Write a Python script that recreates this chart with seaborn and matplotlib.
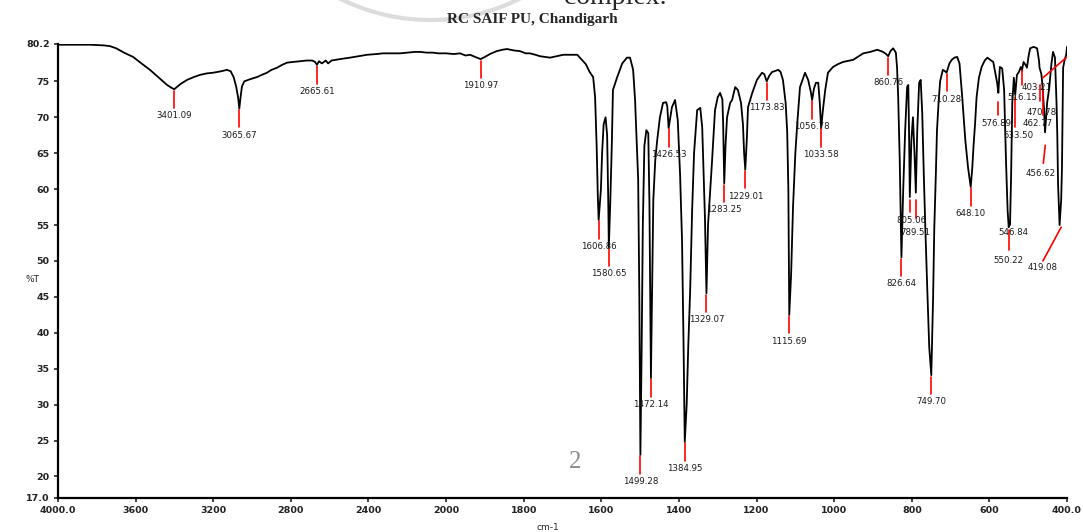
import numpy as np
import pandas as pd
import matplotlib
matplotlib.use("Agg")
import matplotlib.pyplot as plt
from matplotlib.patches import Arc
import seaborn as sns

# --- spectrum (wavenumber cm-1, %T) ---
wavenumber = [
    4000, 3900, 3835, 3760, 3732, 3700, 3660, 3613, 3570, 3526, 3480, 3438, 3415, 3401.09,
    3370, 3335, 3300, 3268, 3235, 3201, 3160, 3129, 3110, 3095, 3082, 3072, 3065.67, 3060,
    3052, 3040, 3010, 2974, 2950, 2923, 2900, 2871, 2845, 2820, 2790, 2752, 2720, 2690,
    2675, 2665.61, 2655, 2640, 2620, 2608, 2590, 2546, 2520, 2495, 2450, 2407, 2360, 2325,
    2280, 2237, 2200, 2160, 2134, 2100, 2070, 2040, 2000, 1980, 1964, 1950, 1938, 1925,
    1910.97, 1900, 1887, 1870, 1855, 1843, 1825, 1809, 1795, 1784, 1770, 1758, 1745, 1732,
    1715, 1698, 1680, 1662, 1650, 1640, 1630, 1621, 1616, 1612, 1609, 1606.86, 1601, 1598,
    1594, 1589, 1585, 1582, 1580.65, 1577, 1573, 1570, 1559, 1546, 1534, 1526, 1518, 1513,
    1505, 1502, 1499.28, 1496, 1493, 1489, 1484, 1479, 1476, 1474, 1472.14, 1469, 1466, 1461,
    1456, 1449, 1441, 1433, 1430, 1426.53, 1422, 1418, 1410, 1403, 1397, 1392, 1388, 1384.95,
    1380, 1376, 1371, 1366, 1361, 1353, 1345, 1340, 1333, 1329.07, 1325, 1315, 1307, 1300,
    1294, 1288, 1286, 1283.25, 1280, 1276, 1268, 1263, 1255, 1248, 1240, 1235, 1232, 1229.01,
    1225, 1222, 1211, 1199, 1186, 1180, 1173.83, 1167, 1160, 1144, 1138, 1132, 1125, 1121,
    1118, 1115.69, 1111, 1106, 1100, 1095, 1088, 1075, 1067, 1060, 1056.78, 1052, 1047, 1041,
    1037, 1033.58, 1029, 1023, 1016, 1003, 990, 977, 951, 925, 907, 889, 874, 866, 860.76,
    855, 848, 841, 838, 835, 831, 826.64, 822, 817, 812, 809, 807, 805.06, 801, 797, 793,
    789.51, 786, 781, 777, 773, 769, 765, 760, 755, 749.70, 745, 742, 738, 735, 731, 727,
    720, 714, 710.28, 703, 697, 690, 683, 677, 670, 662, 655, 648.10, 644, 641, 637, 633,
    627, 620, 612, 605, 598, 590, 584, 580, 576.89, 573, 567, 562, 557, 553, 550.22, 548,
    546.84, 544, 541, 537, 533.50, 529, 524, 519, 516.15, 512, 507, 503.21, 499, 495, 486,
    477, 472, 470.78, 466, 462.77, 459, 456.62, 453, 451, 446, 440, 436, 431, 427, 425, 423,
    419.08, 415, 413, 410, 406, 402, 400,
]
transmittance = [
    80.1, 80.1, 80.1, 80.0, 79.9, 79.6, 79.0, 78.4, 77.5, 76.6, 75.5, 74.5, 74.1, 73.9,
    74.6, 75.2, 75.6, 75.9, 76.1, 76.2, 76.4, 76.6, 76.4, 75.6, 74.3, 72.8, 71.2, 72.6,
    74.3, 75.0, 75.3, 75.6, 75.9, 76.2, 76.6, 76.9, 77.3, 77.6, 77.7, 77.8, 77.9, 77.9,
    77.7, 77.3, 77.8, 77.5, 77.9, 77.5, 77.9, 78.1, 78.2, 78.3, 78.5, 78.7, 78.8, 78.9,
    78.9, 78.9, 79.0, 79.1, 79.1, 79.0, 79.0, 78.9, 78.9, 78.8, 78.9, 78.6, 78.7, 78.4,
    78.1, 78.4, 78.8, 79.2, 79.4, 79.5, 79.3, 79.2, 78.9, 78.9, 78.7, 78.5, 78.4, 78.3,
    78.5, 78.7, 78.7, 78.7, 78.0, 77.4, 76.3, 75.6, 72.8, 66.0, 59.0, 55.7, 60.0, 65.0,
    69.0, 70.0, 67.5, 58.0, 51.9, 58.0, 66.0, 73.8, 75.6, 77.5, 78.3, 78.3, 76.6, 72.4,
    61.3, 45.0, 23.0, 38.0, 55.0, 66.0, 68.2, 67.8, 58.0, 45.0, 33.7, 46.0, 58.5, 64.0,
    66.8, 70.0, 72.0, 72.1, 71.5, 68.5, 70.0, 71.4, 72.4, 69.6, 62.0, 52.9, 38.0, 24.8,
    30.0, 38.0, 46.0, 57.0, 65.0, 71.0, 71.3, 68.6, 56.1, 45.5, 55.0, 63.6, 71.0, 72.8,
    73.4, 72.5, 69.0, 60.8, 66.0, 70.0, 72.0, 72.4, 74.2, 73.8, 72.0, 69.0, 65.0, 62.7,
    67.0, 71.4, 73.4, 75.2, 76.2, 76.0, 75.0, 75.8, 76.3, 76.6, 76.3, 75.2, 72.0, 68.0,
    60.0, 42.5, 48.0, 57.5, 65.0, 69.2, 74.2, 76.2, 75.2, 73.5, 72.4, 74.0, 74.8, 74.8,
    72.0, 68.5, 71.0, 73.8, 76.2, 77.0, 77.4, 77.7, 78.0, 78.9, 79.1, 79.4, 79.1, 78.8, 78.5,
    79.2, 79.6, 79.0, 77.0, 72.8, 64.0, 50.5, 60.0, 68.2, 74.2, 74.5, 68.0, 58.9, 66.8, 70.0, 65.0,
    59.5, 68.0, 74.8, 75.2, 70.5, 62.0, 54.5, 46.0, 38.0, 34.1, 45.0, 54.5, 62.0, 68.2, 72.0, 75.0,
    76.6, 76.4, 76.2, 77.5, 78.0, 78.3, 78.4, 77.5, 72.8, 66.8, 63.0, 60.3, 63.0, 65.9, 69.0, 72.8,
    75.5, 77.0, 77.9, 78.3, 78.0, 77.7, 76.0, 74.8, 73.4, 77.0, 76.8, 73.8, 63.6, 57.0, 54.7, 55.5,
    55.0, 62.0, 72.0, 75.5, 73.1, 75.9, 76.3, 77.0, 76.5, 77.7, 77.3, 76.9, 78.5, 79.6, 79.8,
    79.6, 77.8, 76.9, 76.0, 74.1, 71.0, 67.9, 70.5, 72.1, 74.0, 77.5, 79.1, 78.3, 72.0, 67.5, 60.6,
    55.0, 58.5, 62.9, 76.9, 78.0, 78.7, 79.8,
]

# --- labelled peaks ---
peak_wn = [3401.09, 3065.67, 2665.61, 1910.97, 1606.86, 1580.65, 1499.28, 1472.14,
           1426.53, 1384.95, 1329.07, 1283.25, 1229.01, 1173.83, 1115.69, 1056.78,
           1033.58, 860.76, 826.64, 805.06, 789.51, 749.70, 710.28, 648.10, 576.89,
           550.22, 546.84, 533.50, 516.15, 403.21, 470.78, 462.77, 456.62, 419.08]
peak_T = [73.9, 71.2, 77.3, 78.1, 55.7, 51.9, 23.0, 33.7, 68.5, 24.8, 45.5, 60.8, 62.7,
          75.0, 42.5, 72.4, 68.5, 78.5, 50.5, 58.9, 59.5, 34.1, 76.2, 60.3, 73.4, 54.7,
          55.0, 73.1, 76.5, 78.5, 76.9, 74.1, 67.9, 55.0]
peak_text = ["3401.09", "3065.67", "2665.61", "1910.97", "1606.86", "1580.65", "1499.28",
             "1472.14", "1426.53", "1384.95", "1329.07", "1283.25", "1229.01", "1173.83",
             "1115.69", "1056.78", "1033.58", "860.76", "826.64", "805.06", "789.51",
             "749.70", "710.28", "648.10", "576.89", "550.22", "546.84", "533.50",
             "516.15", "403.21", "470.78", "462.77", "456.62", "419.08"]

# labels that the spectrometer software moved: label (wn, T) and leader segment
label_layout = {
    "805.06": ((802, 55.6), ((805.06, 58.5), (805.06, 56.8))),
    "789.51": ((791, 54.0), ((789.51, 58.5), (789.51, 56.0))),
    "576.89": ((583, 69.2), ((576.89, 72.1), (576.89, 70.3))),
    "550.22": ((552, 50.1), ((550.22, 54.3), (550.22, 51.5))),
    "546.84": ((539, 54.0), None),
    "533.50": ((526, 67.5), ((533.5, 72.8), (533.5, 68.6))),
    "516.15": ((516, 72.7), ((516.15, 76.6), (516.15, 74.5))),
    "403.21": ((477, 74.2), ((400, 78.4), (462, 75.5))),
    "470.78": ((466, 70.7), ((470.78, 74.5), (470.78, 72.3))),
    "462.77": ((476, 69.2), ((462.77, 73.8), (462.77, 70.3))),
    "456.62": ((467, 62.2), ((456, 66.1), (461, 63.6))),
    "419.08": ((464, 49.1), ((415, 54.7), (462, 50.0))),
}

xticks = [4000, 3600, 3200, 2800, 2400, 2000, 1800, 1600, 1400, 1200, 1000, 800, 600, 400]
xtick_text = ["4000.0", "3600", "3200", "2800", "2400", "2000", "1800", "1600", "1400",
              "1200", "1000", "800", "600", "400.0"]
yticks = [17.0, 20, 25, 30, 35, 40, 45, 50, 55, 60, 65, 70, 75, 80.2]
ytick_text = ["17.0", "20", "25", "30", "35", "40", "45", "50", "55", "60", "65", "70",
              "75", "80.2"]

df = pd.DataFrame({"wn": wavenumber, "T": transmittance})


# spectrometer axis: scale doubles below 2000 cm-1
def fwd(w):
    w = np.asarray(w, dtype=float)
    return np.where(w >= 2000, 1000 + (w - 2000) / 2, w - 1000)


def inv(u):
    u = np.asarray(u, dtype=float)
    return np.where(u >= 1000, 2000 + 2 * (u - 1000), u + 1000)


sns.set_style("ticks")
plt.rcParams["font.family"] = ["DejaVu Sans"]
SERIF = ["Liberation Serif", "DejaVu Serif"]

fig = plt.figure(figsize=(10.83, 5.32), dpi=100)
ax = fig.add_axes([58 / 1083, 1 - 498 / 532, 1009 / 1083, 454 / 532])

sns.lineplot(data=df, x="wn", y="T", ax=ax, color="black", linewidth=1.3,
             sort=False, estimator=None)

ax.set_xscale("function", functions=(fwd, inv))
ax.set_xlim(4000, 400)
ax.set_ylim(17.0, 80.2)

for wn, t, txt in zip(peak_wn, peak_T, peak_text):
    if txt in label_layout:
        (lx, ly), seg = label_layout[txt]
        if seg is not None:
            ax.plot([seg[0][0], seg[1][0]], [seg[0][1], seg[1][1]], color="red", lw=1.2)
    else:
        ax.plot([wn, wn], [t - 0.2, t - 2.6], color="red", lw=1.2)
        lx, ly = wn, t - 3.7
    ax.text(lx, ly, txt, fontsize=6.2, ha="center", va="center", color="#1a1a1a")

ax.set_xticks(xticks)
ax.set_xticklabels(xtick_text)
ax.set_yticks(yticks)
ax.set_yticklabels(ytick_text)
ax.minorticks_off()
ax.tick_params(axis="both", length=3, width=1.2, labelsize=6.8, direction="out", pad=3)
for lab in ax.get_xticklabels() + ax.get_yticklabels():
    lab.set_fontweight("bold")
    lab.set_color("#222222")
sns.despine(ax=ax)
for s in ("left", "bottom"):
    ax.spines[s].set_linewidth(1.6)
    ax.spines[s].set_color("black")
ax.set_xlabel("")
ax.set_ylabel("")

fig.text(32 / 1083, 1 - 280 / 532, "%T", fontsize=6.5, ha="center", va="center")
fig.text(548 / 1083, 1 - 527 / 532, "cm-1", fontsize=6.5, ha="center", va="center")
fig.text(532 / 1083, 1 - 20 / 532, "RC SAIF PU, Chandigarh", fontsize=11,
         fontweight="bold", ha="center", va="center", family=SERIF)
fig.text(575 / 1083, 1 - 462 / 532, "2", fontsize=18, color="#8c8c8c",
         ha="center", va="center", family=SERIF)
fig.text(615 / 1083, 1 + 2 / 532, "complex.", fontsize=20, ha="center", va="center",
         family=SERIF)
fig.add_artist(Arc((430 / 1083, 1 + 180 / 532), 400 / 1083, 400 / 532,
                   theta1=232, theta2=312, transform=fig.transFigure,
                   color="#dcdcdc", lw=3))

fig.savefig("out.png", dpi=100)
